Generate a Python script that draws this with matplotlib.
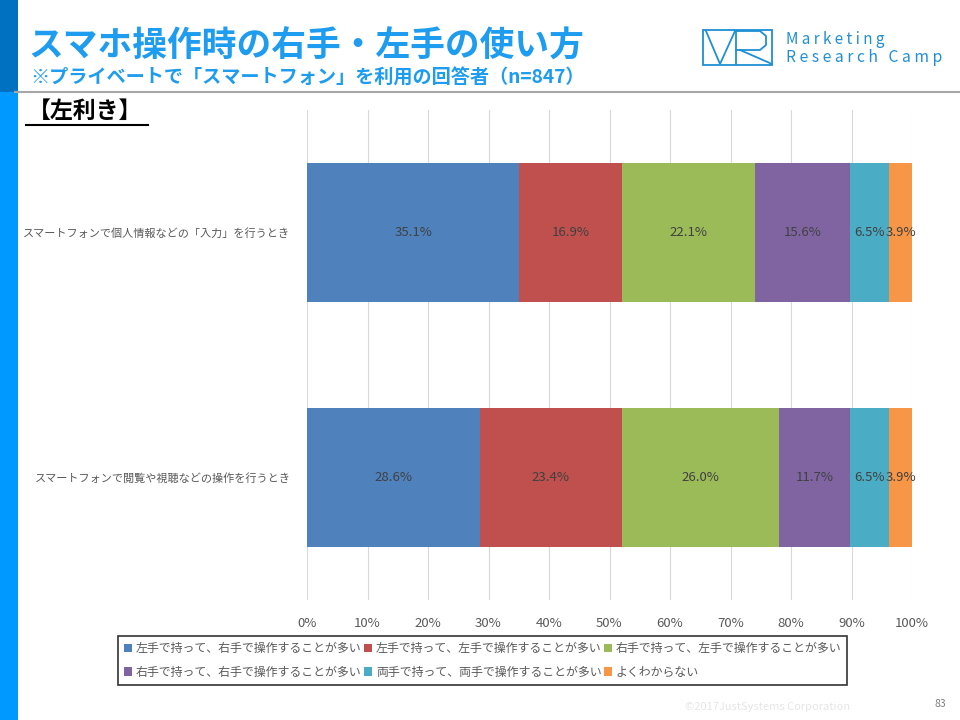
import matplotlib.pyplot as plt
from matplotlib.patches import Rectangle
from matplotlib.lines import Line2D

plt.rcParams['font.family'] = ['Noto Sans CJK JP', 'DejaVu Sans']

# data
categories = ['スマートフォンで個人情報などの「入力」を行うとき',
              'スマートフォンで閲覧や視聴などの操作を行うとき']
series = ['左手で持って、右手で操作することが多い',
          '左手で持って、左手で操作することが多い',
          '右手で持って、左手で操作することが多い',
          '右手で持って、右手で操作することが多い',
          '両手で持って、両手で操作することが多い',
          'よくわからない']
values = [[35.1, 28.6],
          [16.9, 23.4],
          [22.1, 26.0],
          [15.6, 11.7],
          [6.5, 6.5],
          [3.9, 3.9]]
colors = ['#4F81BD', '#C0504D', '#9BBB59', '#8064A2', '#4BACC6', '#F79646']
ticks = list(range(0, 101, 10))

fig = plt.figure(figsize=(9.6, 7.2), dpi=100)
W, H = 960, 720

def fx(x):
    return x / W

def fy(y):
    return 1 - y / H

# left stripe
fig.add_artist(Rectangle((0, fy(92)), fx(18), 92 / H, transform=fig.transFigure,
                         color='#0070C0', lw=0))
fig.add_artist(Rectangle((0, 0), fx(18), fy(92), transform=fig.transFigure,
                         color='#0099FF', lw=0))

# title
fig.text(fx(28), fy(46), 'スマホ操作時の右手・左手の使い方', fontsize=25, fontweight='bold',
         color='#1E9CF0', va='center', ha='left')
fig.text(fx(30), fy(78), '※プライベートで「スマートフォン」を利用の回答者（n=847）', fontsize=13.8,
         fontweight='bold', color='#1E9CF0', va='center', ha='left')
fig.add_artist(Line2D([fx(15), 1], [fy(92), fy(92)], transform=fig.transFigure,
                      color='#A6A6A6', lw=1.5))
fig.text(fx(28), fy(111), '【左利き】', fontsize=16.5, fontweight='bold', color='black',
         va='center', ha='left')
fig.add_artist(Line2D([fx(26), fx(148)], [fy(125), fy(125)], transform=fig.transFigure,
                      color='black', lw=1.5))

# logo
lc = '#1F8FD6'
fig.add_artist(Rectangle((fx(703), fy(65)), fx(69), 35 / H, transform=fig.transFigure,
                         fill=False, ec=lc, lw=1.3))
fig.add_artist(Line2D([fx(706), fx(720), fx(735)], [fy(31), fy(64), fy(31)],
                      transform=fig.transFigure, color=lc, lw=1.3))
fig.add_artist(Line2D([fx(736), fx(736)], [fy(31), fy(64)], transform=fig.transFigure,
                      color=lc, lw=1.3))
fig.add_artist(Line2D([fx(736), fx(760), fx(766), fx(766), fx(760), fx(736)],
                      [fy(31), fy(31), fy(36), fy(45), fy(50), fy(50)],
                      transform=fig.transFigure, color=lc, lw=1.3))
fig.add_artist(Line2D([fx(740), fx(772)], [fy(50), fy(64)], transform=fig.transFigure,
                      color=lc, lw=1.3))
fig.text(fx(786), fy(39), 'M a r k e t i n g', fontsize=11, color=lc, va='center', ha='left')
fig.text(fx(786), fy(58), 'R e s e a r c h   C a m p', fontsize=11.3, color=lc, va='center',
         ha='left')

# chart
ax = fig.add_axes([fx(307), fy(600), fx(912) - fx(307), (600 - 110) / H])
ypos = list(range(len(categories)))
left = [0] * len(categories)
handles = []
for name, vals, c in zip(series, values, colors):
    bars = ax.barh(ypos, vals, left=left, height=0.57, color=c, label=name, zorder=2)
    handles.append(bars)
    for b, v, l in zip(bars, vals, left):
        ax.text(l + v / 2, b.get_y() + b.get_height() / 2, f'{v:.1f}%', ha='center',
                va='center', fontsize=9.5, color='#404040', zorder=3)
    left = [a + b for a, b in zip(left, vals)]

ax.set_xlim(0, 100)
ax.set_ylim(1.5, -0.5)
ax.set_xticks(ticks)
ax.set_xticklabels([f'{t}%' for t in ticks], fontsize=9.5, color='#595959')
ax.set_yticks(ypos)
ax.set_yticklabels(categories, fontsize=8, color='#595959')
ax.tick_params(length=0, pad=12)
ax.tick_params(axis='x', pad=12)
ax.grid(axis='x', color='#D9D9D9', lw=0.8, zorder=0)
for s in ax.spines.values():
    s.set_visible(False)

# legend filled row by row
order = [0, 3, 1, 4, 2, 5]
leg = fig.legend([handles[i] for i in order], [series[i] for i in order],
                 loc='upper left', bbox_to_anchor=(fx(118), fy(636)), ncol=3, fontsize=8.6,
                 frameon=True, fancybox=False, edgecolor='black', handlelength=0.7,
                 handleheight=0.7, handletextpad=0.3, columnspacing=0.2,
                 borderpad=0.5, labelspacing=0.9, borderaxespad=0,
                 labelcolor='#595959')
leg.get_frame().set_linewidth(1.2)

fig.text(fx(850), fy(707), '©2017JustSystems Corporation', fontsize=8, color='#E6E6E6',
         ha='right', va='center')
fig.text(fx(946), fy(704), '83', fontsize=7.5, color='#7F7F7F', ha='right', va='center')

fig.savefig('out.png', dpi=100)
